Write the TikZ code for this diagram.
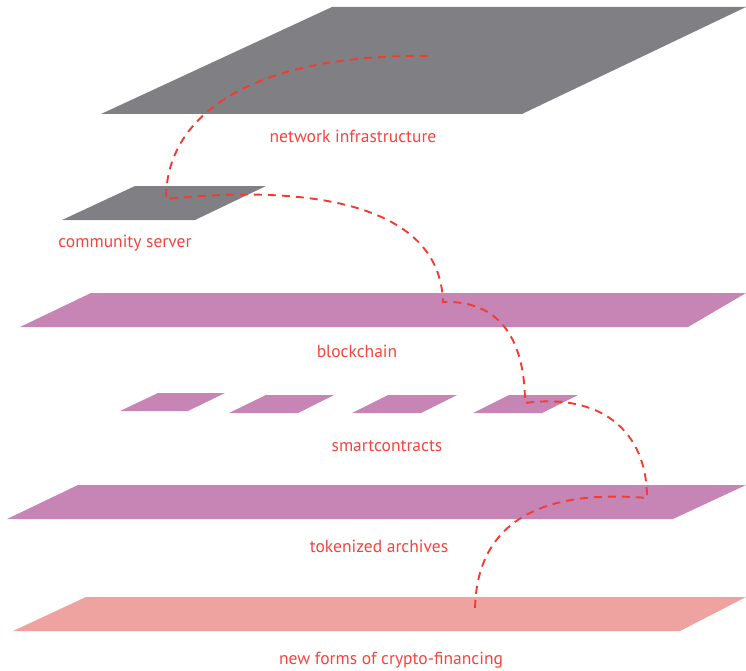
\documentclass[tikz,border=0pt]{standalone}
\usepackage{fontspec}
\setmainfont{PT Sans}
\definecolor{planegray}{HTML}{808084}
\definecolor{planepurple}{HTML}{C785B6}
\definecolor{planepink}{HTML}{EFA3A0}
\definecolor{labelred}{HTML}{F2453D}
\definecolor{dashred}{HTML}{F23C32}
\tikzset{
  lbl/.style={text=labelred, font=\fontsize{17.5}{20}\selectfont, inner sep=0pt},
  link/.style={draw=dashred, line width=1.9pt, dash pattern=on 8pt off 6pt},
}
\begin{document}
\begin{tikzpicture}[x=1pt,y=-1pt]
\useasboundingbox (0,0) rectangle (746,671);
% planes
\fill[planegray] (101,114) -- (522,114) -- (746,7) -- (332,7) -- cycle;
\fill[planegray] (62,220) -- (195,220) -- (266,186) -- (135,186) -- cycle;
\fill[planepurple] (20,327) -- (688,327) -- (746,293) -- (91,293) -- cycle;
\fill[planepurple] (120,411) -- (188,411) -- (225,393) -- (158,393) -- cycle;
\fill[planepurple] (229,413) -- (298,413) -- (334,395) -- (266,395) -- cycle;
\fill[planepurple] (352,413) -- (421,413) -- (457,395) -- (388,395) -- cycle;
\fill[planepurple] (473,413) -- (542,413) -- (578,395) -- (509,395) -- cycle;
\fill[planepurple] (7,519) -- (673,519) -- (746,485) -- (78,485) -- cycle;
\fill[planepink] (13,631) -- (680,631) -- (746,597) -- (86,597) -- cycle;
% labels
\node[lbl] (l1) at (353,136) {network infrastructure};
\node[lbl] (l2) at (125,243) {community server};
\node[lbl] (l3) at (357,351) {blockchain};
\node[lbl] (l4) at (387,446) {smartcontracts};
\node[lbl] (l5) at (379,546) {tokenized archives};
\node[lbl] (l6) at (391,660) {new forms of crypto-financing};
% connector
\coordinate (p0) at (428,56);
\coordinate (p1) at (166,199);
\coordinate (p2) at (443,302);
\coordinate (p3) at (525,403);
\coordinate (p4) at (647,498);
\coordinate (p5) at (475,612);
\draw[link] (p0) .. controls (260,54) and (166,110) .. (p1)
  .. controls (300,185) and (440,200) .. (p2)
  .. controls (500,300) and (525,340) .. (p3)
  .. controls (600,393) and (647,430) .. (p4)
  .. controls (530,488) and (475,530) .. (p5);
\end{tikzpicture}
\end{document}
